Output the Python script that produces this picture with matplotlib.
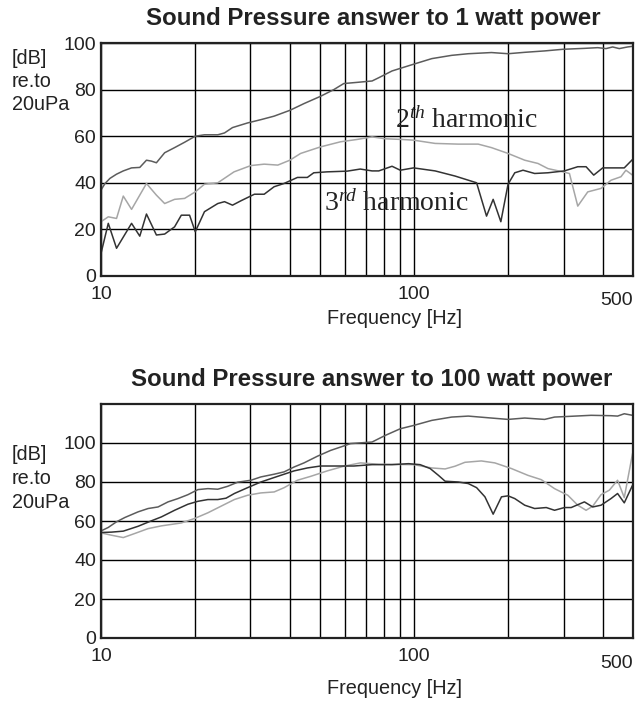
import matplotlib
matplotlib.use("Agg")
import matplotlib.pyplot as plt

plt.rcParams['font.family'] = ['Liberation Sans', 'DejaVu Sans']
plt.rcParams['mathtext.fontset'] = 'custom'
plt.rcParams['mathtext.rm'] = 'Liberation Serif'
plt.rcParams['mathtext.it'] = 'Liberation Serif:italic'

# --- 1 watt: fundamental, 2nd and 3rd harmonic (Hz, dB) ---
f_1w_fund = [10, 10.3, 10.68, 11.21, 11.78, 12.52, 13.3, 13.97, 14.49, 15.03, 15.97, 17.18, 18.49, 20.0,
             21.4, 23.6, 24.8, 26.3, 29.4, 32.4, 35.7, 40.1, 44.5, 50.2, 55.4, 59.6, 65.7, 73.4, 77.1, 85.0,
             99.6, 113.9, 131.8, 148.9, 176.6, 199.5, 225.5, 261, 298.5, 349.8, 385.8, 410, 430.5, 452,
             480.4, 500]
db_1w_fund = [36.9, 39.7, 41.9, 43.7, 45.1, 46.4, 46.6, 49.7, 49.3, 48.6, 52.9, 55.1, 57.4, 60.0,
              60.6, 60.6, 61.4, 63.7, 65.7, 67.1, 68.6, 71.1, 74.0, 77.1, 80.0, 82.6, 83.1, 83.7, 85.1, 88.0,
              90.9, 93.3, 94.7, 95.4, 95.9, 95.4, 96.0, 96.6, 97.3, 97.7, 98.0, 97.6, 98.3, 97.6,
              98.3, 98.6]

f_1w_h2 = [10, 10.55, 11.21, 11.78, 12.52, 13.97, 15.03, 15.97, 17.18, 18.49, 20.0, 21.4, 23.6, 26.6,
           30.1, 33.2, 36.7, 40.1, 43.4, 50.2, 58.2, 65.7, 73.4, 80.9, 91.4, 99.6, 116.7, 138.4, 160.2,
           176.6, 199.5, 225.5, 248.6, 267.5, 298.5, 313.3, 333.1, 358.5, 395.3, 425.3, 457.6, 474.6, 498.2]
db_1w_h2 = [23.3, 25.4, 24.7, 34.3, 28.6, 39.7, 34.7, 31.1, 32.9, 33.3, 36.1, 39.4, 40.0, 44.7,
            47.4, 48.0, 47.6, 49.7, 52.6, 55.4, 57.6, 58.6, 59.7, 58.9, 58.6, 58.3, 56.9, 56.6, 56.6,
            55.1, 52.6, 49.7, 48.3, 46.1, 44.7, 44.0, 30.0, 36.1, 37.6, 41.1, 42.6, 45.4, 43.3]

f_1w_h3 = [10, 10.55, 11.21, 12.52, 13.3, 13.97, 15.03, 15.97, 17.18, 18.05, 19.18, 20.0, 21.4, 23.6,
           24.8, 26.3, 28.0, 30.9, 33.2, 35.7, 38.4, 42.4, 45.6, 47.8, 52.7, 61.1, 67.3, 73.4, 77.1, 85.0,
           90.3, 99.6, 116.7, 135.1, 158.3, 170.3, 178.8, 189.2, 199.5, 209.6, 222.7, 242.6, 267.5, 302,
           333.1, 354.1, 374.6, 400.2, 468.9, 498.2]
db_1w_h3 = [9.7, 22.6, 11.9, 22.6, 17.1, 26.6, 17.6, 18.0, 21.1, 26.1, 26.1, 19.0, 27.6, 31.1,
            31.9, 30.4, 32.3, 35.1, 35.1, 38.3, 39.7, 42.3, 42.3, 44.3, 44.7, 45.0, 45.9, 45.1, 45.1, 47.1,
            45.4, 46.4, 45.1, 42.9, 40.0, 25.7, 32.9, 23.3, 39.4, 44.3, 45.4, 44.0, 44.3, 45.1,
            46.9, 46.9, 43.3, 46.4, 46.4, 50.0]

# --- 100 watt ---
f_100w_fund = [10, 10.55, 11.21, 11.92, 13.14, 14.14, 15.21, 16.37, 17.61, 18.95, 20.39, 21.94, 23.6,
               25.39, 27.32, 30.12, 32.4, 35.73, 38.45, 41.37, 44.5, 49.07, 54.11, 59.66, 62.64, 73.4,
               80.9, 90.3, 99.6, 113.9, 131.8, 148.9, 176.6, 199.5, 225.5, 261, 280.8, 317.3, 367.3,
               425.3, 446.4, 468.9, 498.2]
db_100w_fund = [54.9, 56.7, 59.6, 61.8, 64.7, 66.4, 67.2, 69.8, 71.5, 73.5, 76.1, 76.6, 76.3,
                77.8, 79.9, 80.9, 82.6, 84.0, 85.2, 87.7, 89.8, 93.2, 96.2, 98.5, 99.7, 100.5,
                103.9, 107.3, 109.0, 111.6, 113.3, 113.8, 112.8, 112.1, 112.8, 112.1, 113.3, 113.7, 114.2,
                114.0, 113.8, 115.0, 114.2]

f_100w_h2 = [10, 10.81, 11.78, 12.82, 14.14, 15.59, 18.05, 19.9, 21.94, 24.18, 26.66, 29.39, 32.4,
             35.73, 38.45, 42.39, 46.73, 52.8, 59.66, 67.38, 77.1, 99.6, 113.9, 125.6, 135.1, 145.3,
             163.9, 181, 204.5, 231, 254.7, 280.8, 309.6, 333.1, 354.1, 371.8, 395.3, 420.1, 446.4,
             468.9, 498.2]
db_100w_h2 = [53.9, 52.7, 51.5, 53.6, 56.1, 57.5, 59.0, 61.3, 64.2, 67.6, 71.0, 73.2, 74.4,
              74.9, 77.1, 80.9, 82.9, 85.7, 88.1, 89.8, 89.1, 88.9, 87.2, 86.7, 88.1, 90.1,
              90.8, 89.8, 86.9, 83.4, 81.2, 76.6, 73.2, 68.1, 65.5, 67.6, 73.5, 75.8, 80.9,
              72.0, 94.5]

f_100w_h3 = [10, 10.81, 11.78, 13.14, 14.49, 15.59, 17.18, 18.95, 20.39, 21.94, 23.6, 25.08, 26.66,
             29.39, 32.4, 35.73, 38.45, 41.37, 45.6, 50.26, 55.43, 64.2, 73.4, 85.0, 96.0, 104.5, 112.5,
             119.6, 125.6, 138.4, 148.9, 158.3, 168.3, 178.8, 190.1, 199.5, 209.6, 225.5, 242.6, 264.2,
             280.8, 302, 317.3, 349.8, 371.8, 395.3, 425.3, 446.4, 468.9, 498.2]
db_100w_h3 = [54.1, 54.3, 54.8, 57.3, 60.1, 62.1, 65.5, 68.6, 70.1, 71.0, 71.0, 71.7, 74.1,
              77.1, 80.0, 82.3, 84.0, 85.7, 87.2, 88.2, 88.2, 88.2, 88.9, 88.9, 89.4, 88.9, 86.9,
              83.4, 80.4, 80.0, 79.2, 77.1, 72.4, 63.5, 72.4, 72.9, 71.5, 68.1, 66.4, 66.9,
              65.5, 66.9, 66.9, 69.8, 67.2, 68.1, 71.5, 74.1, 69.3, 78.3]

titles = ["Sound Pressure answer to 1 watt power", "Sound Pressure answer to 100 watt power"]
unit_lines = ["[dB]", "re.to", "20uPa"]
major_ticks = [10, 100]
minor_ticks = [20, 30, 40, 50, 60, 70, 80, 90, 200, 300, 400]

c_fund = '#5c5c5c'
c_h2 = '#a6a6a6'
c_h3 = '#333333'

W, H = 637, 706
fig = plt.figure(figsize=(W / 100, H / 100), dpi=100)


def px_box(left, top, right, bottom):
    return [left / W, 1 - bottom / H, (right - left) / W, (bottom - top) / H]


ax1 = fig.add_axes(px_box(101, 43, 633, 276))
ax2 = fig.add_axes(px_box(101, 404, 633, 638))

ax1.plot(f_1w_h2, db_1w_h2, color=c_h2, lw=1.1)
ax1.plot(f_1w_h3, db_1w_h3, color=c_h3, lw=1.1)
ax1.plot(f_1w_fund, db_1w_fund, color=c_fund, lw=1.1)

ax2.plot(f_100w_h2, db_100w_h2, color=c_h2, lw=1.1)
ax2.plot(f_100w_h3, db_100w_h3, color=c_h3, lw=1.1)
ax2.plot(f_100w_fund, db_100w_fund, color=c_fund, lw=1.1)

for ax, ymax in ((ax1, 100), (ax2, 120)):
    ax.set_xscale('log')
    ax.set_xlim(10, 500)
    ax.set_ylim(0, ymax)
    ax.set_yticks([0, 20, 40, 60, 80, 100])
    ax.set_xticks(major_ticks)
    ax.set_xticklabels([str(t) for t in major_ticks])
    ax.set_xticks(minor_ticks, minor=True)
    ax.set_xticklabels([], minor=True)
    ax.grid(which='both', color='black', lw=1.0)
    ax.set_axisbelow(True)
    ax.tick_params(which='both', length=0, labelsize=14, colors='#222222')
    ax.tick_params(axis='x', pad=7.0)
    ax.tick_params(axis='y', pad=3.5)
    for s in ax.spines.values():
        s.set_linewidth(1.6)
        s.set_color('#222222')
    ax.text(500, -25 / 234, '500', transform=ax.get_xaxis_transform(),
            ha='right', va='center', fontsize=14, color='#222222')

# harmonic labels
ax1.text(86.7, 63.4, r'$2^{th}$ harmonic', fontfamily='Liberation Serif', fontsize=20,
         va='baseline', color='#222222')
ax1.text(51.5, 28.0, r'$3^{rd}$ harmonic', fontfamily='Liberation Serif', fontsize=20,
         va='baseline', color='#222222')

# titles and labels
fig.text(373 / W, 1 - 25 / H, titles[0], ha='center', va='baseline', fontsize=17.3,
         fontweight='bold', color='#222222')
fig.text(372 / W, 1 - 386 / H, titles[1], ha='center', va='baseline', fontsize=17.3,
         fontweight='bold', color='#222222')

# unit label, one line per text
for top in (58, 455):
    for i, line in enumerate(unit_lines):
        fig.text(12 / W, 1 - (top + i * 23.5) / H, line, ha='left', va='center',
                 fontsize=14.3, color='#222222')

fig.text(395 / W, 1 - 318 / H, "Frequency [Hz]", ha='center', va='center', fontsize=14.3,
         color='#222222')
fig.text(395 / W, 1 - 688 / H, "Frequency [Hz]", ha='center', va='center', fontsize=14.3,
         color='#222222')

fig.savefig('out.png', dpi=100)
